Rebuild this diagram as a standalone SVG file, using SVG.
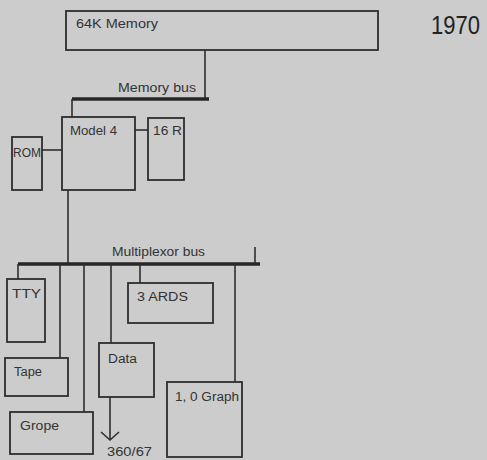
<svg xmlns="http://www.w3.org/2000/svg" width="487" height="460" viewBox="0 0 487 460">
<style>
.box{fill:none;stroke:#2e2e2e;stroke-width:1.8}
.ln{fill:none;stroke:#2e2e2e;stroke-width:1.6}
.bus{fill:none;stroke:#262626;stroke-width:3.5}
text{font-family:"Liberation Sans",Arial,sans-serif;font-size:12px;fill:#333;dominant-baseline:central}
</style>
<rect width="487" height="460" fill="#cccccc"/>
<g id="connectors">
<line class="ln" x1="205" y1="50" x2="205" y2="99"/>
<line class="bus" x1="72" y1="99" x2="209" y2="99"/>
<line class="ln" x1="72" y1="99" x2="72" y2="117"/>
<line class="ln" x1="135" y1="130" x2="148" y2="130"/>
<line class="ln" x1="42" y1="150" x2="62" y2="150"/>
<line class="ln" x1="68" y1="190" x2="68" y2="264"/>
<line class="bus" x1="18" y1="264" x2="260" y2="264"/>
<line class="ln" x1="255" y1="247" x2="255" y2="264"/>
<line class="ln" x1="18" y1="264" x2="18" y2="279"/>
<line class="ln" x1="60" y1="264" x2="60" y2="358"/>
<line class="ln" x1="84" y1="264" x2="84" y2="412"/>
<line class="ln" x1="111" y1="264" x2="111" y2="343"/>
<line class="ln" x1="140" y1="264" x2="140" y2="283"/>
<line class="ln" x1="235" y1="264" x2="235" y2="382"/>
<line class="ln" x1="110" y1="397" x2="110" y2="440"/>
<polyline class="ln" points="101,432 110,440 119,432"/>
<text x="196" y="88" text-anchor="end" textLength="78" lengthAdjust="spacingAndGlyphs">Memory bus</text>
<text x="112" y="252" textLength="93" lengthAdjust="spacingAndGlyphs">Multiplexor bus</text>
<text x="107" y="452" textLength="45" lengthAdjust="spacingAndGlyphs">360/67</text>
</g>
<g id="memory">
<rect class="box" x="66" y="11" width="312" height="39"/>
<text x="76" y="24" textLength="82" lengthAdjust="spacingAndGlyphs">64K Memory</text>
</g>
<g id="year">
<text x="431" y="25" style="font-size:25px;fill:#222" textLength="49" lengthAdjust="spacingAndGlyphs">1970</text>
</g>
<g id="model4">
<rect class="box" x="62" y="117" width="73" height="73"/>
<text x="70" y="131" textLength="47" lengthAdjust="spacingAndGlyphs">Model 4</text>
</g>
<g id="r16">
<rect class="box" x="148" y="118" width="36" height="62"/>
<text x="153" y="131" textLength="29" lengthAdjust="spacingAndGlyphs">16 R</text>
</g>
<g id="rom">
<rect class="box" x="12" y="137" width="30" height="53"/>
<text x="13" y="153" textLength="28" lengthAdjust="spacingAndGlyphs">ROM</text>
</g>
<g id="tty">
<rect class="box" x="7" y="279" width="38" height="63"/>
<text x="12" y="294" textLength="29" lengthAdjust="spacingAndGlyphs">TTY</text>
</g>
<g id="ards">
<rect class="box" x="128" y="283" width="85" height="40"/>
<text x="137" y="297" textLength="51" lengthAdjust="spacingAndGlyphs">3 ARDS</text>
</g>
<g id="tape">
<rect class="box" x="5" y="358" width="63" height="38"/>
<text x="14" y="372" textLength="28" lengthAdjust="spacingAndGlyphs">Tape</text>
</g>
<g id="data">
<rect class="box" x="99" y="343" width="55" height="54"/>
<text x="108" y="359" textLength="29" lengthAdjust="spacingAndGlyphs">Data</text>
</g>
<g id="grope">
<rect class="box" x="10" y="412" width="83" height="42"/>
<text x="20" y="426" textLength="39" lengthAdjust="spacingAndGlyphs">Grope</text>
</g>
<g id="graph">
<rect class="box" x="167" y="382" width="75" height="75"/>
<text x="175" y="397" textLength="64" lengthAdjust="spacingAndGlyphs">1, 0 Graph</text>
</g>
</svg>
